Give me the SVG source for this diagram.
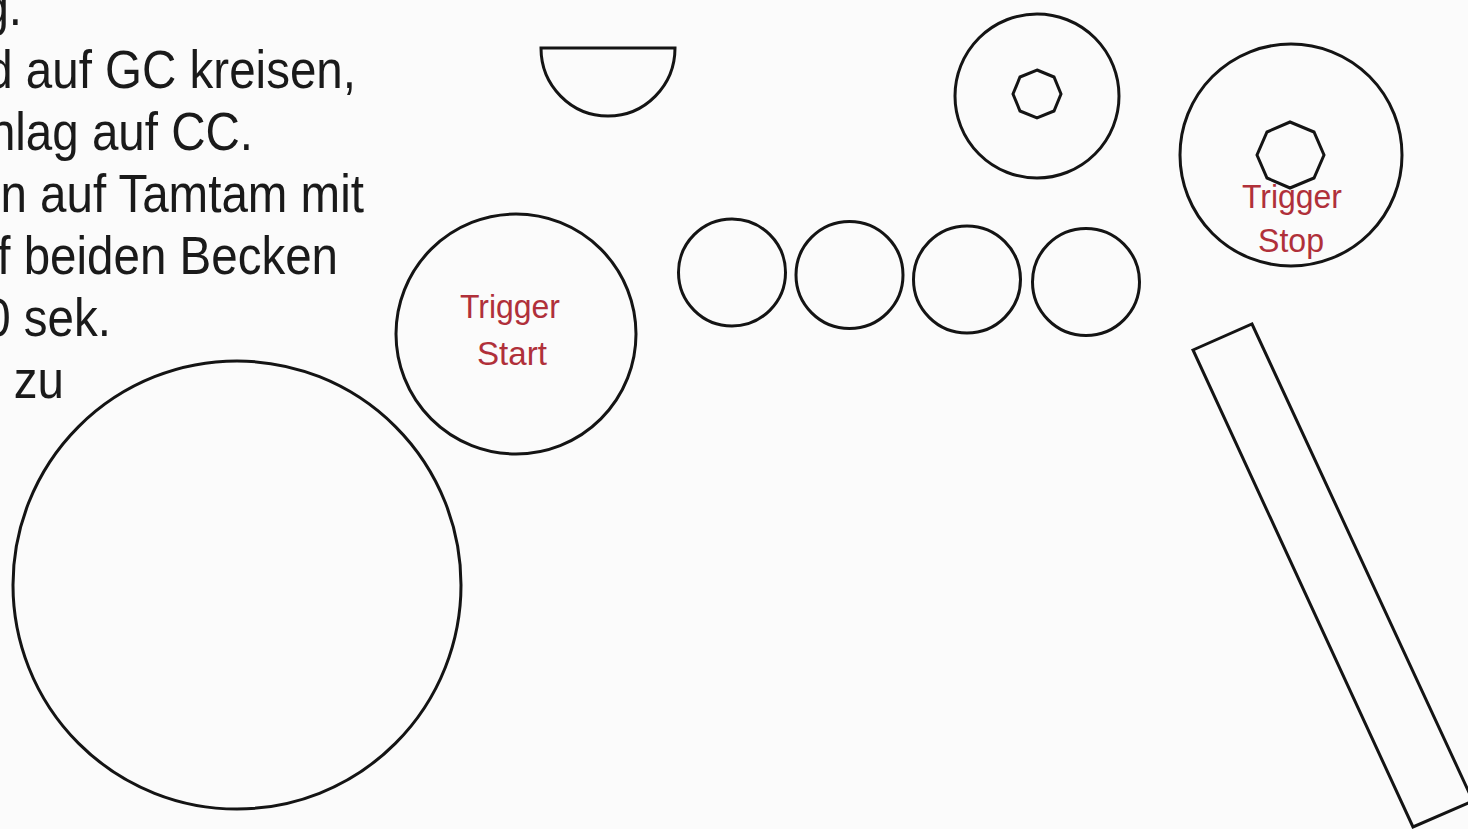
<svg xmlns="http://www.w3.org/2000/svg" width="1468" height="829" viewBox="0 0 1468 829">
<style>
.s{fill:none;stroke:#141414;stroke-width:3}
.t{font-family:"Liberation Sans",Arial,sans-serif;font-size:54px;fill:#1a1a1a;text-anchor:end}
.r{font-family:"Liberation Sans",Arial,sans-serif;font-size:34px;fill:#b0303a;text-anchor:middle}
</style>
<rect width="1468" height="829" fill="#fbfbfb"/>
<g id="notes" transform="scale(0.88,1)">
<text class="t" x="25" y="25">g.</text>
<text class="t" x="404.5" y="88">d auf GC kreisen,</text>
<text class="t" x="287.5" y="150">hlag auf CC.</text>
<text class="t" x="413.6" y="212">n auf Tamtam mit</text>
<text class="t" x="384.1" y="274">f beiden Becken</text>
<text class="t" x="126.1" y="336">0 sek.</text>
<text class="t" x="72.7" y="398">zu</text>
</g>
<g id="big-drum"><circle class="s" cx="237" cy="585" r="224"/></g>
<g id="trigger-start">
<circle class="s" cx="516" cy="334" r="120"/>
<text class="r" x="510" y="318" textLength="100" lengthAdjust="spacingAndGlyphs">Trigger</text>
<text class="r" x="512" y="365" textLength="70" lengthAdjust="spacingAndGlyphs">Start</text>
</g>
<g id="half-circle"><path class="s" d="M541,48 L675,48 A67,68 0 0 1 541,48 Z"/></g>
<g id="cymbal-1">
<circle class="s" cx="1037" cy="96" r="82"/>
<polygon class="s" points="1037,70 1054,77 1061,94 1054,111 1037,118 1020,111 1013,94 1020,77"/>
</g>
<g id="trigger-stop">
<circle class="s" cx="1291" cy="155" r="111"/>
<polygon class="s" points="1290,122 1314,132 1324,155 1314,178 1290,188 1267,178 1257,155 1267,132"/>
<text class="r" x="1292" y="208" textLength="100" lengthAdjust="spacingAndGlyphs">Trigger</text>
<text class="r" x="1291" y="252" textLength="66" lengthAdjust="spacingAndGlyphs">Stop</text>
</g>
<g id="tom-1"><circle class="s" cx="732" cy="272.5" r="53.5"/></g>
<g id="tom-2"><circle class="s" cx="849.5" cy="275" r="53.5"/></g>
<g id="tom-3"><circle class="s" cx="967" cy="279.5" r="53.5"/></g>
<g id="tom-4"><circle class="s" cx="1086" cy="282" r="53.5"/></g>
<g id="bar"><polygon class="s" points="1193,350 1252,324 1473,801 1413,827"/></g>
</svg>
